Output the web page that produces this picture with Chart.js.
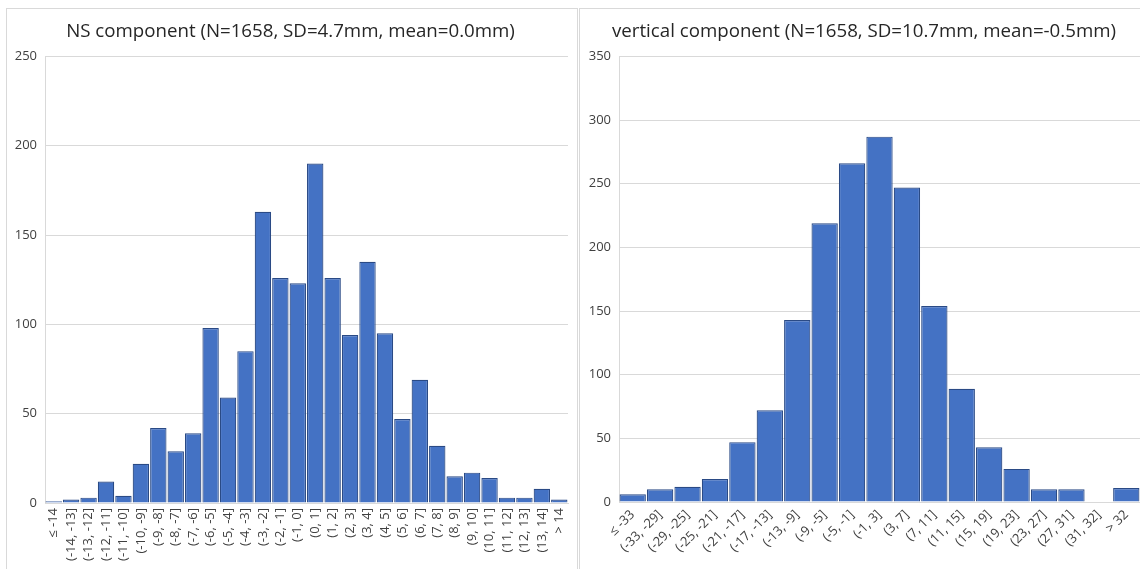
<!DOCTYPE html>
<html>
<head>
<meta charset="utf-8">
<script src="https://cdn.jsdelivr.net/npm/chart.js@4.4.0/dist/chart.umd.min.js"></script>
<style>
  html, body { margin: 0; padding: 0; background: #fff; width: 1140px; height: 569px; overflow: hidden; }
  .frame { position: absolute; border: 1px solid #d9d9d9; }
  #f1 { left: 6px; top: 8px; width: 570px; height: 620px; }
  #f2 { left: 579px; top: 8px; width: 620px; height: 620px; }
  .box { position: absolute; top: 0; height: 569px; }
  #b1 { left: 0; width: 580px; }
  #b2 { left: 580px; width: 560px; }
</style>
</head>
<body>
<div class="frame" id="f1"></div>
<div class="frame" id="f2"></div>
<div class="box" id="b1"><canvas id="nsChart"></canvas></div>
<div class="box" id="b2"><canvas id="vertChart"></canvas></div>
<script>
// ---- data ----
const nsLabels = ["≤ -14", "(-14, -13]", "(-13, -12]", "(-12, -11]", "(-11, -10]", "(-10, -9]",
  "(-9, -8]", "(-8, -7]", "(-7, -6]", "(-6, -5]", "(-5, -4]", "(-4, -3]", "(-3, -2]", "(-2, -1]",
  "(-1, 0]", "(0, 1]", "(1, 2]", "(2, 3]", "(3, 4]", "(4, 5]", "(5, 6]", "(6, 7]", "(7, 8]",
  "(8, 9]", "(9, 10]", "(10, 11]", "(11, 12]", "(12, 13]", "(13, 14]", "> 14"];
const nsCounts = [1, 2, 3, 12, 4, 22, 42, 29, 39, 98, 59, 85, 163, 126, 123, 190, 126, 94, 135, 95,
  47, 69, 32, 15, 17, 14, 3, 3, 8, 2];
const nsTicks = [0, 50, 100, 150, 200, 250];

const vertLabels = ["≤ -33", "(-33, -29]", "(-29, -25]", "(-25, -21]", "(-21, -17]", "(-17, -13]",
  "(-13, -9]", "(-9, -5]", "(-5, -1]", "(-1, 3]", "(3, 7]", "(7, 11]", "(11, 15]", "(15, 19]",
  "(19, 23]", "(23, 27]", "(27, 31]", "(31, 32]", "> 32"];
const vertCounts = [6, 10, 12, 18, 47, 72, 143, 219, 266, 287, 247, 154, 89, 43, 26, 10, 10, 0, 11];
const vertTicks = [0, 50, 100, 150, 200, 250, 300, 350];

const nsTitle = "NS component (N=1658, SD=4.7mm, mean=0.0mm)";
const vertTitle = "vertical component (N=1658, SD=10.7mm, mean=-0.5mm)";

const FONT = "'Open Sans', sans-serif";

function makeHist(id, labels, counts, ticks, title, o) {
  return new Chart(document.getElementById(id), {
    type: "bar",
    data: {
      labels: labels,
      datasets: [{
        data: counts,
        backgroundColor: "#4472c4",
        borderColor: "#2a4a85",
        borderWidth: 1.2,
        borderSkipped: "bottom",
        barPercentage: 1,
        categoryPercentage: o.catPct,
      }],
    },
    options: {
      responsive: true,
      maintainAspectRatio: false,
      animation: false,
      layout: { padding: { left: o.padLeft, right: o.padRight, top: 8, bottom: 0 } },
      plugins: {
        legend: { display: false },
        tooltip: { enabled: false },
        title: {
          display: true,
          text: title,
          color: "#262626",
          font: { family: FONT, size: 18.7, weight: "normal" },
          padding: { top: 12, bottom: 14 },
        },
      },
      scales: {
        x: {
          grid: { display: false, drawTicks: false },
          border: { display: true, color: "#d9d9d9" },
          ticks: {
            autoSkip: false,
            maxRotation: o.rot,
            minRotation: o.rot,
            padding: 5,
            color: "#404040",
            font: { family: FONT, size: 13 },
          },
          afterFit: (s) => { s.height = o.xHeight; s.paddingLeft = 0; s.paddingRight = 0; },
        },
        y: {
          min: ticks[0],
          max: ticks[ticks.length - 1],
          grid: { color: "#d9d9d9", drawTicks: false },
          border: { display: true, color: "#d9d9d9" },
          ticks: {
            stepSize: ticks[1] - ticks[0],
            padding: 8,
            color: "#404040",
            font: { family: FONT, size: 13 },
          },
          afterFit: (s) => { s.width = o.yWidth; },
        },
      },
    },
  });
}

makeHist("nsChart", nsLabels, nsCounts, nsTicks, nsTitle,
  { catPct: 0.94, padLeft: 13, padRight: 12, rot: 90, xHeight: 66, yWidth: 32 });
makeHist("vertChart", vertLabels, vertCounts, vertTicks, vertTitle,
  { catPct: 0.96, padLeft: 8, padRight: 0, rot: 45, xHeight: 67, yWidth: 31 });
</script>
</body>
</html>
